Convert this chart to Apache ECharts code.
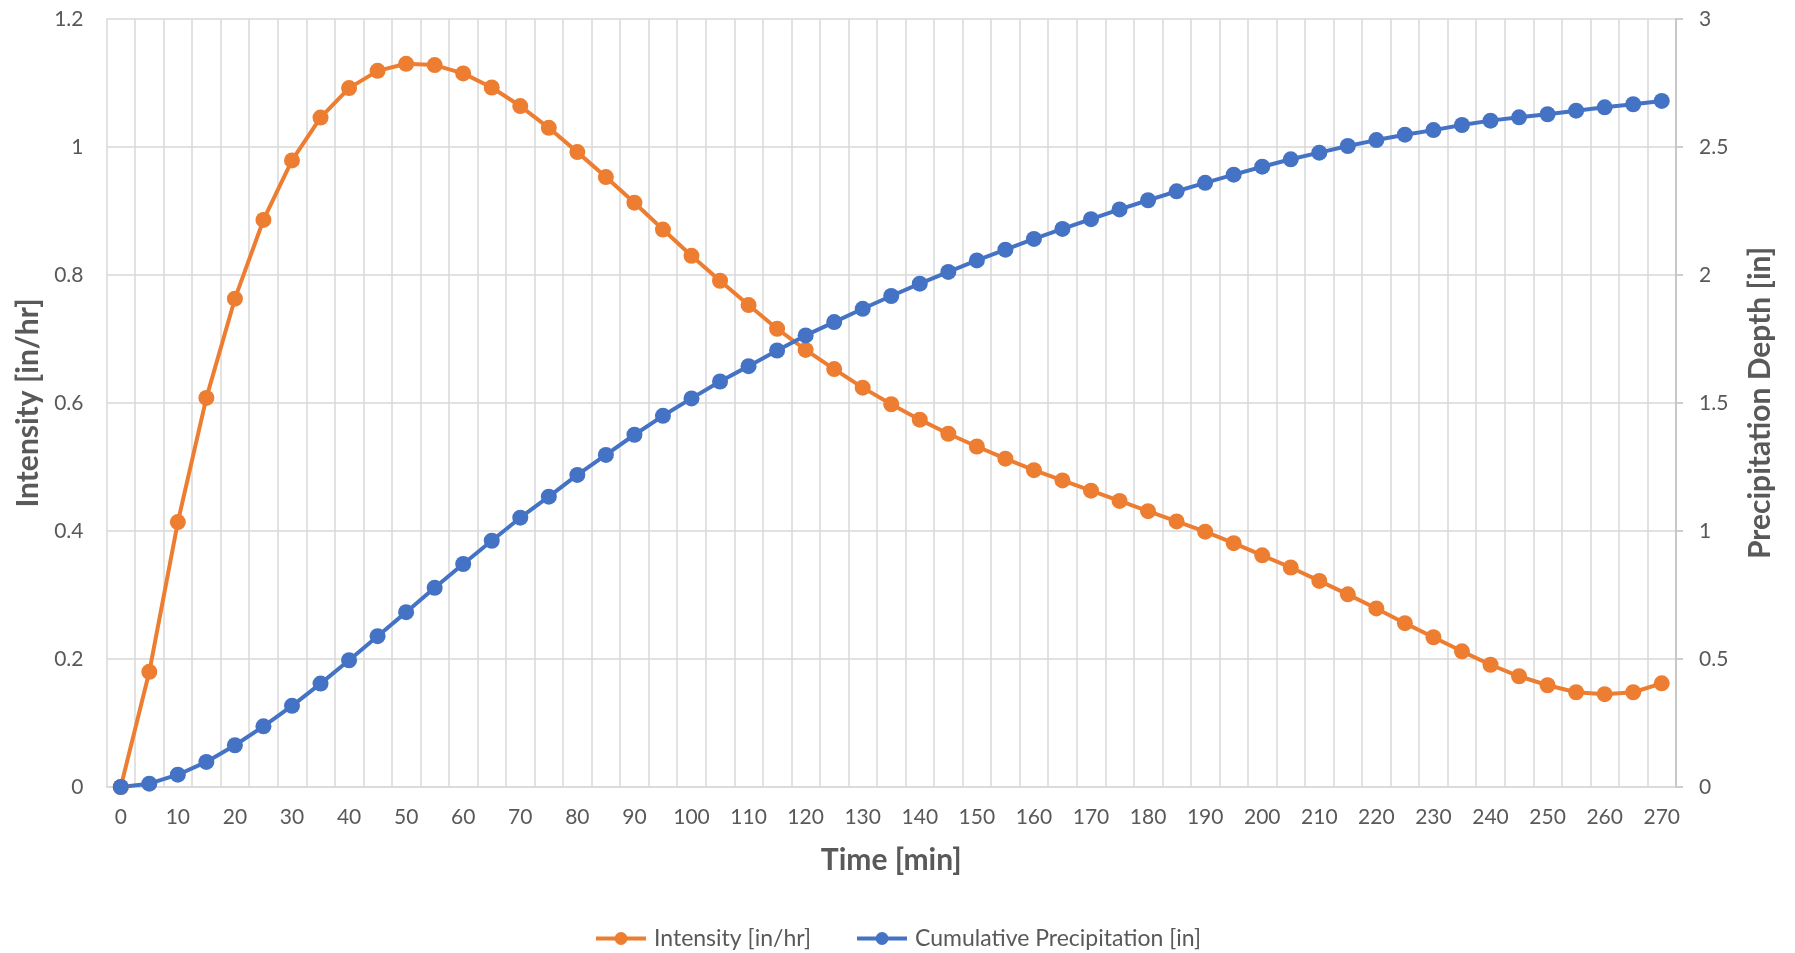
<!DOCTYPE html>
<html>
<head>
<meta charset="utf-8">
<script src="https://cdn.jsdelivr.net/npm/echarts@6/dist/echarts.min.js"></script>
<style>
html,body{margin:0;padding:0;background:#fff;}
#chart{width:1795px;height:953px;}
</style>
</head>
<body>
<div id="chart"></div>
<script>
const times = ['0','5','10','15','20','25','30','35','40','45','50','55','60','65','70','75','80','85','90','95','100','105','110','115','120','125','130','135','140','145','150','155','160','165','170','175','180','185','190','195','200','205','210','215','220','225','230','235','240','245','250','255','260','265','270'];

const intensity = [0, 0.180, 0.414, 0.608, 0.763, 0.886, 0.979, 1.046, 1.092, 1.119, 1.130, 1.128, 1.115, 1.093, 1.064, 1.030, 0.992, 0.953, 0.913, 0.871, 0.830, 0.791, 0.753, 0.716, 0.683, 0.653, 0.624, 0.598, 0.574, 0.552, 0.532, 0.513, 0.495, 0.479, 0.463, 0.447, 0.431, 0.415, 0.399, 0.381, 0.362, 0.343, 0.322, 0.301, 0.279, 0.256, 0.234, 0.212, 0.191, 0.173, 0.159, 0.148, 0.145, 0.148, 0.162];

const cumulative = [0, 0.013, 0.048, 0.098, 0.163, 0.237, 0.317, 0.404, 0.495, 0.589, 0.683, 0.778, 0.871, 0.962, 1.052, 1.134, 1.219, 1.297, 1.376, 1.450, 1.518, 1.584, 1.644, 1.705, 1.764, 1.816, 1.868, 1.918, 1.966, 2.012, 2.057, 2.099, 2.141, 2.180, 2.218, 2.256, 2.292, 2.327, 2.360, 2.392, 2.423, 2.452, 2.478, 2.504, 2.527, 2.548, 2.566, 2.586, 2.603, 2.616, 2.628, 2.642, 2.655, 2.667, 2.680];

const seriesNames = ['Intensity [in/hr]', 'Cumulative Precipitation [in]'];
const axisNames = { x: 'Time [min]', left: 'Intensity [in/hr]', right: 'Precipitation Depth [in]' };

const FONT = 'Lato, "Open Sans", sans-serif';
const TXT = '#595959';
const GRID = '#D9D9D9';

const chart = echarts.init(document.getElementById('chart'), null, { renderer: 'canvas' });
chart.setOption({
  animation: false,
  textStyle: { fontFamily: FONT },
  grid: { left: 106.5, right: 119, top: 19, bottom: 166, containLabel: false },
  legend: {
    data: seriesNames,
    left: 'center',
    top: 922,
    itemWidth: 50,
    itemHeight: 16,
    itemGap: 44,
    lineStyle: { width: 4 },
    textStyle: { fontFamily: FONT, fontSize: 23, color: TXT, padding: [0, 0, 0, 3] }
  },
  xAxis: {
    type: 'category',
    data: times,
    boundaryGap: true,
    name: axisNames.x,
    nameLocation: 'middle',
    nameGap: 58,
    nameTextStyle: { fontFamily: FONT, fontSize: 30, fontWeight: 'bold', color: TXT },
    axisLine: { show: true, lineStyle: { color: GRID, width: 1.5 } },
    axisTick: { show: false },
    axisLabel: { interval: 1, margin: 20, fontFamily: FONT, fontSize: 21, color: TXT },
    splitLine: { show: true, interval: 0, lineStyle: { color: GRID, width: 1.5 } }
  },
  yAxis: [
    {
      type: 'value',
      min: 0, max: 1.2, interval: 0.2,
      name: axisNames.left,
      nameLocation: 'middle',
      nameGap: 63,
      nameTextStyle: { fontFamily: FONT, fontSize: 30, fontWeight: 'bold', color: TXT },
      axisLine: { show: false },
      axisTick: { show: false },
      axisLabel: { margin: 23, fontFamily: FONT, fontSize: 21, color: TXT },
      splitLine: { show: true, lineStyle: { color: GRID, width: 1.5 } }
    },
    {
      type: 'value',
      position: 'right',
      min: 0, max: 3, interval: 0.5,
      name: axisNames.right,
      nameLocation: 'middle',
      nameGap: 69,
      nameTextStyle: { fontFamily: FONT, fontSize: 30, fontWeight: 'bold', color: TXT },
      axisLine: { show: true, lineStyle: { color: '#BFBFBF', width: 1.5 } },
      axisTick: { show: true, inside: false, length: 7, lineStyle: { color: '#BFBFBF', width: 1.5 } },
      axisLabel: { margin: 23, fontFamily: FONT, fontSize: 21, color: TXT },
      splitLine: { show: false }
    }
  ],
  series: [
    {
      name: seriesNames[0],
      type: 'line',
      yAxisIndex: 0,
      data: intensity,
      symbol: 'circle',
      symbolSize: 16,
      showSymbol: true,
      lineStyle: { color: '#ED7D31', width: 4 },
      itemStyle: { color: '#ED7D31' }
    },
    {
      name: seriesNames[1],
      type: 'line',
      yAxisIndex: 1,
      data: cumulative,
      symbol: 'circle',
      symbolSize: 16,
      showSymbol: true,
      lineStyle: { color: '#4472C4', width: 4 },
      itemStyle: { color: '#4472C4' }
    }
  ]
});
</script>
</body>
</html>
